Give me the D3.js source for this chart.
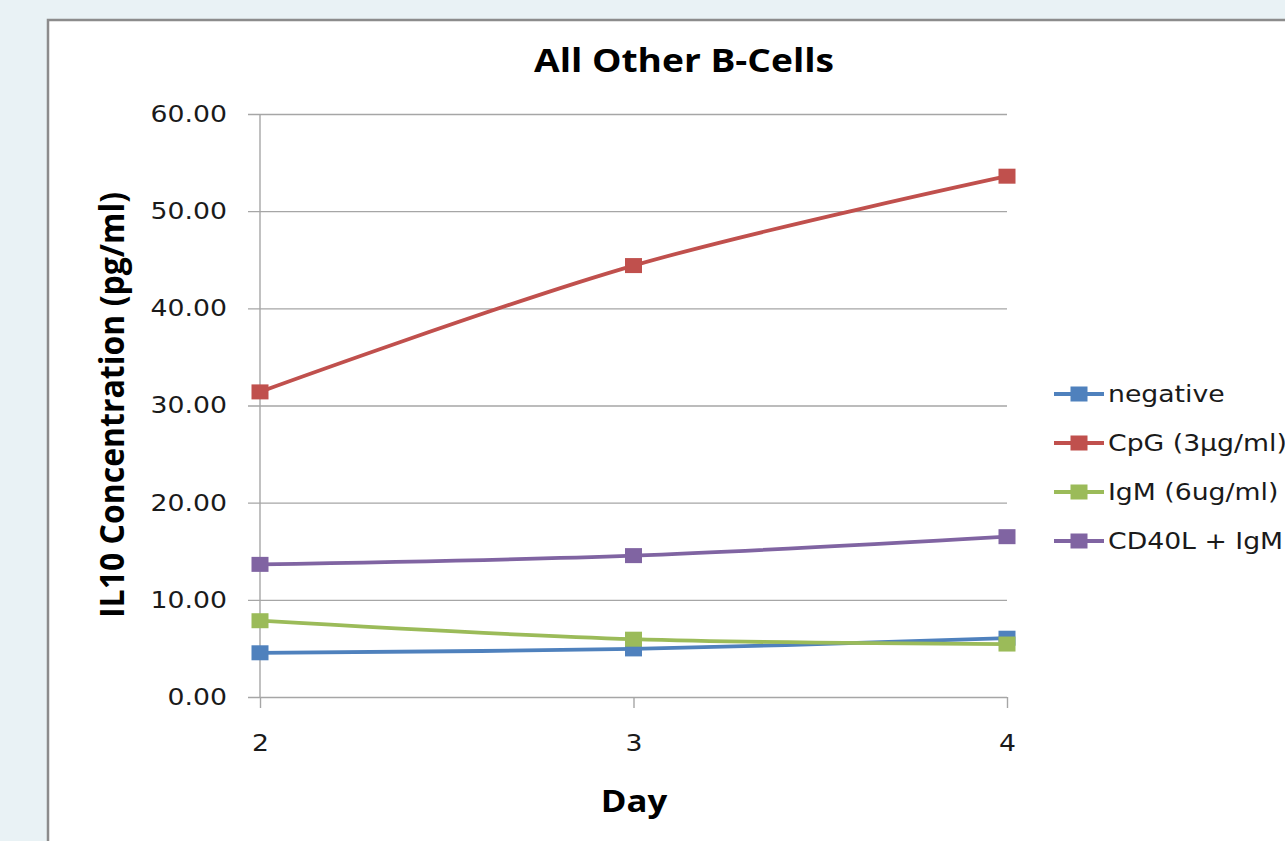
<!DOCTYPE html>
<html>
<head>
<meta charset="utf-8">
<script src="https://cdn.jsdelivr.net/npm/d3@7"></script>
<style>
  html, body { margin: 0; padding: 0; background: #e9f2f5; }
  svg { display: block; }
</style>
</head>
<body>
<svg id="chart" width="1285" height="841"></svg>
<script>
// IL10 concentration by day for each stimulation condition
const days = [2, 3, 4];
const seriesNames = ["negative", "CpG (3\u00b5g/ml)", "IgM (6ug/ml)", "CD40L + IgM"];
const negative = [4.55, 4.95, 6.05];
const cpg = [31.4, 44.4, 53.6];
const igm = [7.85, 5.95, 5.45];
const cd40l = [13.65, 14.55, 16.5];
const yTicks = [0, 10, 20, 30, 40, 50, 60];
const colors = ["#4f81bd", "#c0504d", "#9bbb59", "#8064a2"];

const seriesValues = [negative, cpg, igm, cd40l];

const svg = d3.select("#chart");

// chart frame
svg.append("rect")
  .attr("x", 48).attr("y", 20)
  .attr("width", 1300).attr("height", 900)
  .attr("fill", "#ffffff")
  .attr("stroke", "#8c8c8c")
  .attr("stroke-width", 2.5);

const x = d3.scalePoint().domain(days).range([260, 1007]);
const y = d3.scaleLinear().domain([0, 60]).range([697, 114]);

const labelFont = "'DejaVu Sans', Verdana, sans-serif";
const boldFont = "'Open Sans', 'DejaVu Sans', sans-serif";
const widen = 1.16; // text is set a little wider than the font's natural width

// horizontal gridlines + y axis
const yAxis = d3.axisLeft(y)
  .tickValues(yTicks)
  .tickFormat(d3.format(".2f"))
  .tickSize(-(1007 - 248))
  .tickPadding(21);
const gy = svg.append("g").attr("transform", "translate(248,0)").call(yAxis);
gy.select(".domain").remove();
gy.selectAll(".tick line").attr("stroke", "#a6a6a6").attr("stroke-width", 1.4);
gy.selectAll(".tick text")
  .attr("class", "wide")
  .attr("font-family", labelFont)
  .attr("font-size", 23)
  .attr("fill", "#1a1a1a");

// vertical axis line
svg.append("line")
  .attr("x1", 260).attr("x2", 260)
  .attr("y1", 114).attr("y2", 697)
  .attr("stroke", "#a6a6a6").attr("stroke-width", 1.4);

// x axis
const xAxis = d3.axisBottom(x).tickSize(11).tickPadding(27);
const gx = svg.append("g").attr("transform", "translate(0,697)").call(xAxis);
gx.select(".domain").remove();
gx.selectAll(".tick line").attr("stroke", "#a6a6a6").attr("stroke-width", 1.4);
gx.selectAll(".tick text")
  .attr("class", "wide")
  .attr("font-family", labelFont)
  .attr("font-size", 23)
  .attr("fill", "#1a1a1a");

// series lines and markers
const line = d3.line()
  .x((d, i) => x(days[i]))
  .y(d => y(d))
  .curve(d3.curveCatmullRom.alpha(0.5));

const mw = 17, mh = 15;
seriesValues.forEach((vals, k) => {
  const g = svg.append("g");
  g.append("path")
    .attr("d", line(vals))
    .attr("fill", "none")
    .attr("stroke", colors[k])
    .attr("stroke-width", 3.8);
  g.selectAll("rect")
    .data(vals)
    .enter().append("rect")
    .attr("x", (d, i) => x(days[i]) - mw / 2)
    .attr("y", d => y(d) - mh / 2)
    .attr("width", mw).attr("height", mh)
    .attr("fill", colors[k]);
});

// title
svg.append("text")
  .attr("class", "wide")
  .attr("x", 684).attr("y", 72)
  .attr("text-anchor", "middle")
  .attr("font-family", boldFont)
  .attr("font-weight", "bold")
  .attr("font-size", 32)
  .attr("fill", "#000")
  .text("All Other B-Cells");

// axis titles
svg.append("text")
  .attr("transform", "translate(124,405) rotate(-90)")
  .attr("text-anchor", "middle")
  .attr("font-family", boldFont)
  .attr("font-weight", "bold")
  .attr("font-size", 34)
  .attr("textLength", 426)
  .attr("lengthAdjust", "spacingAndGlyphs")
  .attr("fill", "#000")
  .text("IL10 Concentration (pg/ml)");

svg.append("text")
  .attr("class", "wide")
  .attr("x", 634).attr("y", 812)
  .attr("text-anchor", "middle")
  .attr("font-family", boldFont)
  .attr("font-weight", "bold")
  .attr("font-size", 30)
  .attr("fill", "#000")
  .text("Day");

// legend
const legend = svg.append("g");
seriesNames.forEach((name, k) => {
  const ly = 394 + k * 49;
  legend.append("line")
    .attr("x1", 1054).attr("x2", 1104)
    .attr("y1", ly).attr("y2", ly)
    .attr("stroke", colors[k]).attr("stroke-width", 3.8);
  legend.append("rect")
    .attr("x", 1079 - mw / 2).attr("y", ly - mh / 2)
    .attr("width", mw).attr("height", mh)
    .attr("fill", colors[k]);
  legend.append("text")
    .attr("class", "wide")
    .attr("x", 1108).attr("y", ly + 8)
    .attr("font-family", labelFont)
    .attr("font-size", 23)
    .attr("fill", "#1a1a1a")
    .text(name);
});

// stretch labels horizontally
svg.selectAll("text.wide").each(function () {
  const w = this.getComputedTextLength();
  d3.select(this)
    .attr("textLength", w * widen)
    .attr("lengthAdjust", "spacingAndGlyphs");
});
</script>
</body>
</html>
